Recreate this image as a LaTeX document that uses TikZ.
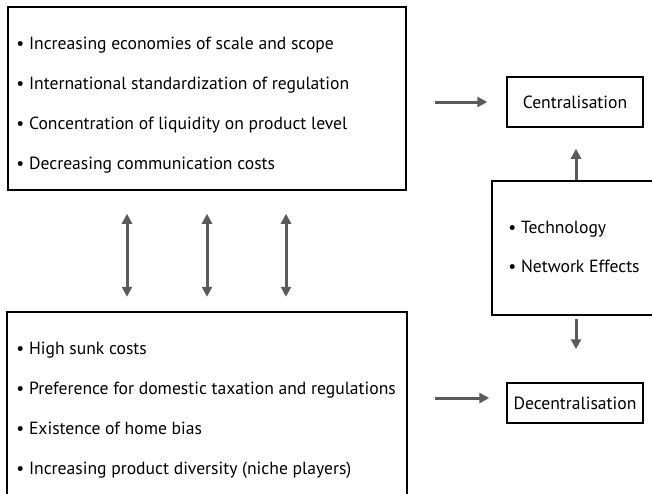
\documentclass[tikz,border=0pt]{standalone}
\usepackage{fontspec}
\setmainfont{PT Sans}
\usetikzlibrary{arrows.meta}
\definecolor{arrowgray}{RGB}{90,90,90}
\tikzset{
  box/.style={draw,line width=0.75pt,inner sep=0pt},
  item/.style={anchor=base west,inner sep=0pt,font=\fontsize{8.8}{10}\selectfont},
  label/.style={inner sep=0pt,font=\fontsize{8.8}{10}\selectfont},
  arr/.style={draw=arrowgray,line width=1.5pt,-{Triangle[length=5pt,width=5pt]}},
  darr/.style={arr,{Triangle[length=5pt,width=5pt]}-{Triangle[length=5pt,width=5pt]}}
}
\begin{document}
\begin{tikzpicture}[x=0.5pt,y=-0.5pt]
	\clip (0,0) rectangle (652,493);
	% the two groups of forces
	\node[box,minimum width=199pt,minimum height=91.5pt] (pro) at (207,98.5) {};
	\node[box,minimum width=200pt,minimum height=94pt] (contra) at (207,406) {};
	% outcomes and the driver box
	\node[box,minimum width=68pt,minimum height=25pt,label] (central) at (575,102) {Centralisation};
	\node[box,minimum width=68pt,minimum height=20pt,label] (decentral) at (575,403) {Decentralisation};
	\node[box,minimum width=84pt,minimum height=67pt] (driver) at (576,248) {};
	% bullet lists
	\foreach \txt [count=\i] in {Increasing economies of scale and scope,
		International standardization of regulation,
		Concentration of liquidity on product level,
		Decreasing communication costs}
		\node[item] (pro\i) at (16,9+40*\i) {\textbullet\ \txt};
	\foreach \txt [count=\i] in {High sunk costs,
		Preference for domestic taxation and regulations,
		Existence of home bias,
		Increasing product diversity (niche players)}
		\node[item] (contra\i) at (16,314+40*\i) {\textbullet\ \txt};
	\node[item] (tech) at (508,233) {\textbullet\ Technology};
	\node[item] (net) at (508,272) {\textbullet\ Network Effects};
	% arrows
	\coordinate (cin) at (435,102);
	\coordinate (din) at (435,398);
	\draw[arr] (cin) -- ([xshift=-9.5pt]central.west);
	\draw[arr] (din) -- ([xshift=-8.5pt]decentral.west|-din);
	\draw[arr] (driver.north) -- ([yshift=-10.5pt]central.south-|driver.north);
	\draw[arr] ([yshift=-1.5pt]driver.south) -- ([yshift=16.5pt]decentral.north-|driver.south);
	\foreach \xx in {127,207,286}
		\draw[darr] (pro.south-|\xx,0) ++(0,23) -- ++(0,83);
\end{tikzpicture}
\end{document}
